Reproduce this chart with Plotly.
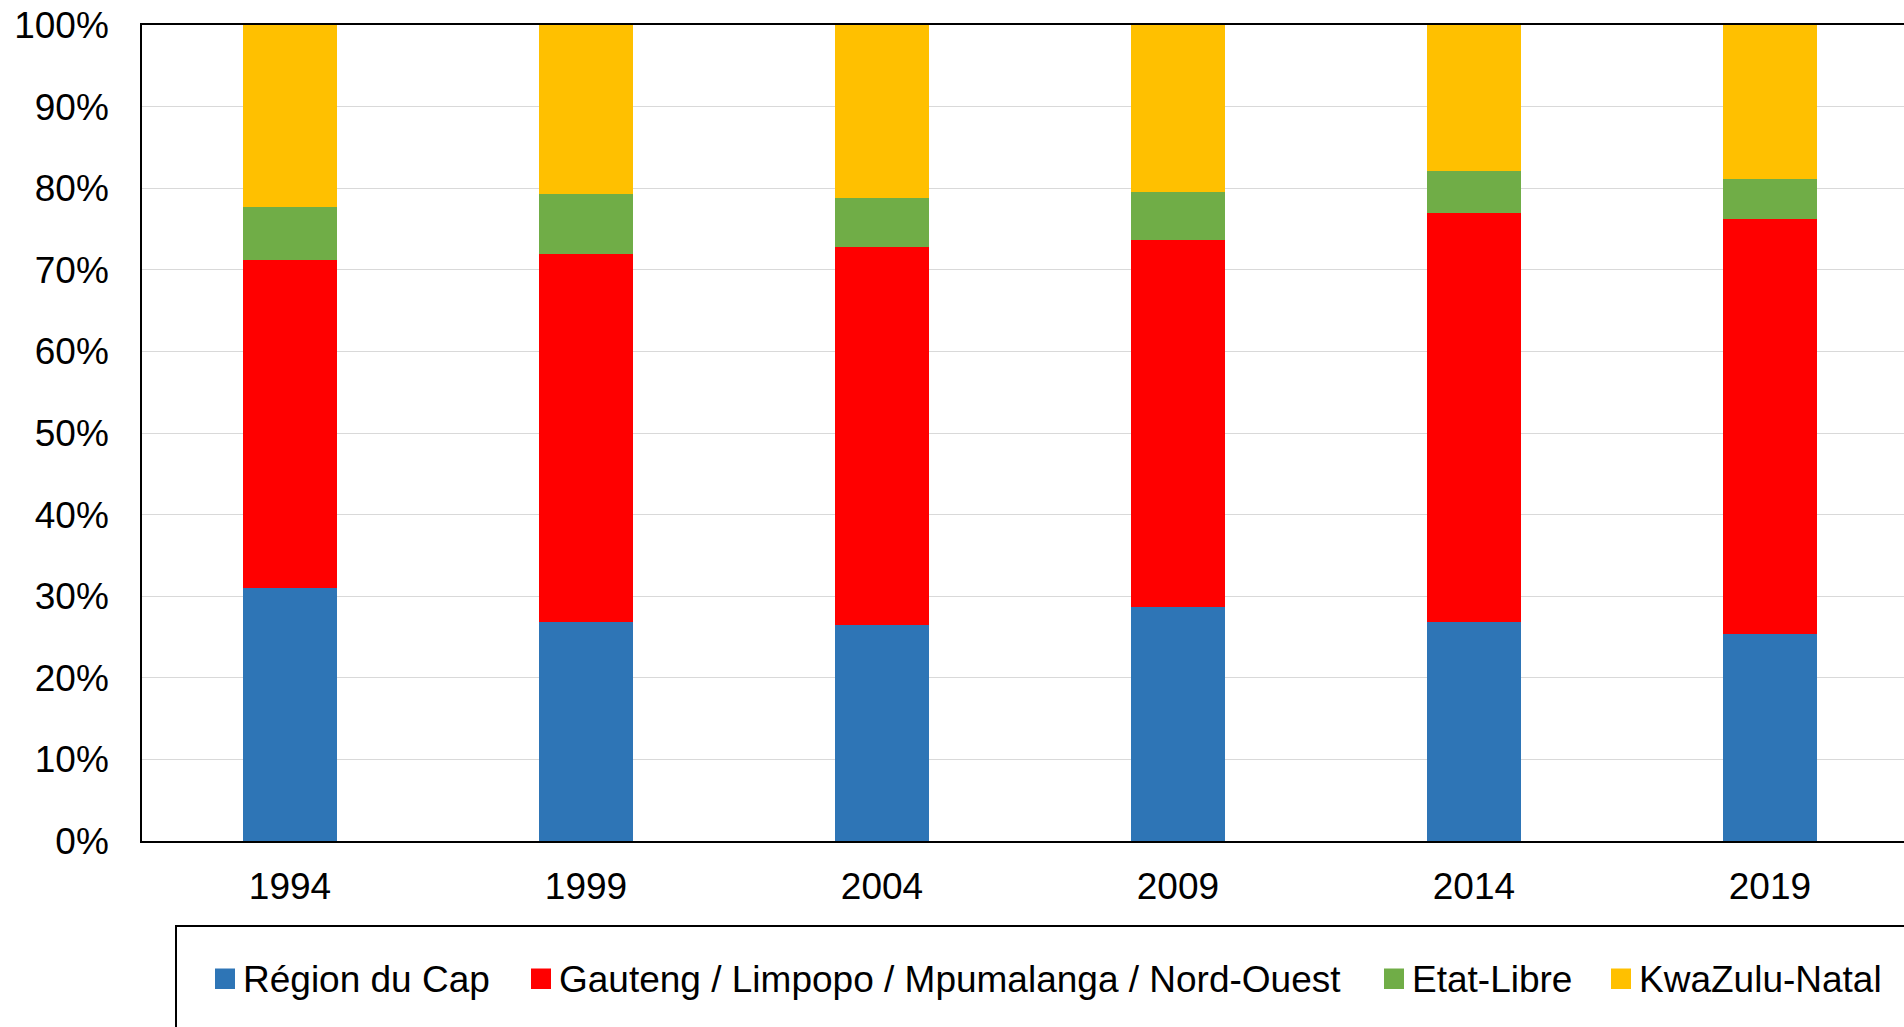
import plotly.graph_objects as go

# Election years
years = ["1994", "1999", "2004", "2009", "2014", "2019"]

# Share of the vote by region (percent of total, stacked to 100 %)
region_names = [
    "Région du Cap",
    "Gauteng / Limpopo / Mpumalanga / Nord-Ouest",
    "Etat-Libre",
    "KwaZulu-Natal",
]
cap = [31.0, 26.8, 26.5, 28.7, 26.8, 25.4]
gauteng = [40.2, 45.1, 46.3, 44.9, 50.2, 50.8]
etat_libre = [6.5, 7.4, 6.0, 5.9, 5.1, 4.9]
kwazulu = [22.3, 20.7, 21.2, 20.5, 17.9, 18.9]

series = [cap, gauteng, etat_libre, kwazulu]
colors = ["#2E75B6", "#FF0000", "#70AD47", "#FFC000"]

y_ticks = list(range(0, 101, 10))
y_tick_labels = [f"{v}%" for v in y_ticks]

FONT = "Liberation Sans, Arial, sans-serif"
W, H = 1904, 1027
ML, MT, MB, MR = 142, 25, 186, 0
PW = W - ML - MR
PH = H - MT - MB


def px_x(px):
    return (px - ML) / PW


def px_y(py):
    return (H - MB - py) / PH


fig = go.Figure()
for name, vals, col in zip(region_names, series, colors):
    fig.add_trace(go.Bar(
        x=years, y=vals, name=name,
        marker=dict(color=col, line=dict(width=0)),
        width=0.32, showlegend=False,
    ))

# Framed legend along the bottom
shapes = [dict(
    type="rect", xref="paper", yref="paper",
    x0=px_x(176), x1=px_x(1915), y0=px_y(926), y1=px_y(1040),
    line=dict(color="black", width=2), fillcolor="rgba(0,0,0,0)",
    layer="above",
)]
annotations = []
square_left = [215, 531, 1384, 1611]
for name, col, sx in zip(region_names, colors, square_left):
    shapes.append(dict(
        type="rect", xref="paper", yref="paper",
        x0=px_x(sx), x1=px_x(sx + 20), y0=px_y(968.5), y1=px_y(989),
        line=dict(width=0), fillcolor=col, layer="above",
    ))
    annotations.append(dict(
        xref="paper", yref="paper", x=px_x(sx + 26), y=px_y(979),
        xanchor="left", yanchor="middle", showarrow=False,
        text=name, font=dict(family=FONT, size=37, color="black"),
    ))

fig.update_layout(
    width=W, height=H,
    barmode="stack",
    margin=dict(l=ML, r=MR, t=MT, b=MB, pad=0),
    paper_bgcolor="white", plot_bgcolor="white",
    font=dict(family=FONT, size=37, color="black"),
    shapes=shapes, annotations=annotations,
    bargap=0.68,
)
fig.update_xaxes(
    type="category", range=[-0.5, 5.453],
    showline=True, linecolor="black", linewidth=2, mirror=True,
    showgrid=False, ticks="", ticklabelstandoff=12,
    tickfont=dict(family=FONT, size=37, color="black"),
)
fig.update_yaxes(
    range=[0, 100], tickvals=y_ticks, ticktext=y_tick_labels,
    showline=True, linecolor="black", linewidth=1.5,
    showgrid=True, gridcolor="#D9D9D9", gridwidth=1.3,
    zeroline=False, ticks="", ticklabelstandoff=24,
    tickfont=dict(family=FONT, size=37, color="black"),
)

fig.write_html("out.html")
